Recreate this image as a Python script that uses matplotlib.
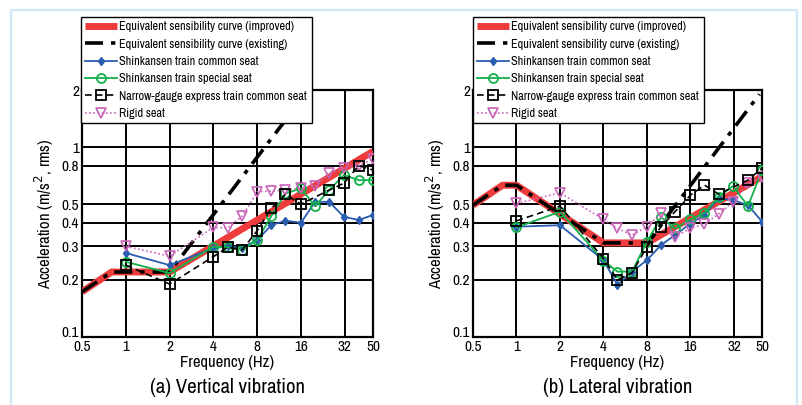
import matplotlib
matplotlib.use("Agg")
import matplotlib.pyplot as plt
from matplotlib import font_manager as fm
from matplotlib.patches import Rectangle
from matplotlib.transforms import ScaledTranslation

# the original uses a condensed Helvetica; take a narrow face if one is installed
_names = sorted({f.name for f in fm.fontManager.ttflist})
_narrow = [n for n in _names if "Narrow" in n or "Condensed" in n]
_narrow += sorted({f.name for f in fm.fontManager.ttflist
                   if f.stretch in ("condensed", "semi-condensed", "extra-condensed", 700, 600, 500)
                   and f.name not in _narrow})
HAVE_NARROW = len(_narrow) > 0
plt.rcParams["font.family"] = (_narrow[:1] if HAVE_NARROW else []) + ["Liberation Sans", "DejaVu Sans"]

# font sizes: (narrow face, fallback)
FS_TICK = 11 if HAVE_NARROW else 9.5
FS_LABEL = 12 if HAVE_NARROW else 9.8
FS_LEG = 8.8 if HAVE_NARROW else 7.6
FS_CAP = 15 if HAVE_NARROW else 12.5

XTICKS = [0.5, 1, 2, 4, 8, 16, 32, 50]
YTICKS = [0.1, 0.2, 0.3, 0.4, 0.5, 0.8, 1, 2]
LABELS = ["Equivalent sensibility curve (improved)",
          "Equivalent sensibility curve (existing)",
          "Shinkansen train common seat",
          "Shinkansen train special seat",
          "Narrow-gauge express train common seat",
          "Rigid seat"]

F_ALL = [1, 2, 4, 5, 6.3, 8, 10, 12.5, 16, 20, 25, 31.5, 40, 50]

# (a) vertical
v_imp_f = [0.5, 0.8, 2, 50]
v_imp_a = [0.173, 0.22, 0.22, 0.95]
v_exi_f = [0.5, 0.8, 2, 18]
v_exi_a = [0.173, 0.22, 0.22, 2.0]
v_common = [0.277, 0.239, 0.294, 0.30, 0.295, 0.324, 0.388, 0.41, 0.40, 0.515, 0.515, 0.43, 0.413, 0.44]
v_special = [0.249, 0.217, 0.299, 0.297, 0.287, 0.324, 0.433, 0.57, 0.606, 0.489, 0.594, 0.713, 0.67, 0.67]
v_narrow_f = [1, 2, 4, 5, 6.3, 8, 10, 12.5, 16, 25, 31.5, 40, 50]
v_narrow = [0.239, 0.19, 0.265, 0.297, 0.287, 0.363, 0.476, 0.564, 0.501, 0.594, 0.645, 0.80, 0.757]
v_rigid = [0.30, 0.267, 0.378, 0.375, 0.433, 0.582, 0.587, 0.594, 0.608, 0.624, 0.733, 0.78, 0.80, 0.865]

# (b) lateral
l_imp_f = [0.5, 0.8, 1, 4, 8, 50]
l_imp_a = [0.495, 0.63, 0.63, 0.313, 0.313, 0.70]
l_exi_f = [0.5, 0.8, 1, 4, 8, 48]
l_exi_a = [0.495, 0.63, 0.63, 0.313, 0.313, 1.9]
l_common = [0.381, 0.388, 0.254, 0.188, 0.221, 0.254, 0.305, 0.344, 0.396, 0.44, 0.537, 0.526, 0.495, 0.405]
l_special = [0.378, 0.457, 0.252, 0.221, 0.221, 0.318, 0.427, 0.373, 0.416, 0.451, 0.547, 0.624, 0.489, 0.757]
l_narrow_f = [1, 2, 4, 5, 6.3, 8, 10, 12.5, 16, 20, 25, 40, 50]
l_narrow = [0.409, 0.489, 0.259, 0.20, 0.218, 0.299, 0.381, 0.457, 0.559, 0.631, 0.566, 0.67, 0.775]
l_rigid = [0.505, 0.575, 0.416, 0.373, 0.344, 0.381, 0.448, 0.337, 0.373, 0.393, 0.444, 0.515, 0.644, 0.698]

RED = "#ee3b3b"
BLUE = "#2a5db0"
GREEN = "#12b04a"
PINK = "#c964b8"


def draw_panel(ax, imp, exi, common, special, narrow, rigid):
    ax.plot(imp[0], imp[1], color=RED, lw=5, solid_capstyle="butt", zorder=3, label=LABELS[0])
    ax.plot(exi[0], exi[1], color="black", lw=2.6, dashes=(5, 2.2, 1.2, 2.2), zorder=4, label=LABELS[1])
    ax.plot(F_ALL, common, color=BLUE, lw=1.3, marker="d", ms=4.5, mfc=BLUE, mec=BLUE,
            zorder=5, label=LABELS[2])
    ax.plot(F_ALL, special, color=GREEN, lw=1.3, marker="o", ms=6.5, mfc="none", mec=GREEN,
            mew=1.3, zorder=5, label=LABELS[3])
    ax.plot(narrow[0], narrow[1], color="black", lw=1.2, ls=(0, (4, 2.5)), marker="s", ms=6.5,
            mfc="none", mec="black", mew=1.3, zorder=6, label=LABELS[4])
    ax.plot(F_ALL, rigid, color=PINK, lw=1.2, ls=(0, (1, 1.5)), marker="v", ms=7.5, mfc="none",
            mec=PINK, mew=1.2, zorder=5, label=LABELS[5])

    ax.set_xscale("log")
    ax.set_yscale("log")
    ax.set_xlim(0.5, 50)
    ax.set_ylim(0.1, 2)
    ax.set_xticks(XTICKS)
    ax.set_xticklabels([f"{t:g}" for t in XTICKS])
    ax.set_yticks(YTICKS)
    ax.set_yticklabels([f"{t:g}" for t in YTICKS])
    ax.minorticks_off()
    ax.tick_params(length=0, labelsize=FS_TICK, pad=2)
    # lift the bottom "0.1" so it does not run into the "0.5" below the corner
    lab = ax.get_yticklabels()[0]
    lab.set_transform(lab.get_transform() + ScaledTranslation(0, 4 / 72, ax.figure.dpi_scale_trans))
    ax.grid(True, color="black", lw=1.4)
    for s in ax.spines.values():
        s.set_linewidth(1.6)
    ax.set_xlabel("Frequency (Hz)", fontsize=FS_LABEL, labelpad=1)
    ax.set_ylabel("Acceleration (m/s$^2$, rms)", fontsize=FS_LABEL, labelpad=4)


fig = plt.figure(figsize=(8.03, 4.05), dpi=100)
fig.patches.append(Rectangle((11 / 803, -0.1), 786 / 803, 1.1 - 10 / 405, transform=fig.transFigure,
                             fill=False, edgecolor="#cfe7f6", lw=1.6, zorder=0))

ax1 = fig.add_axes([82 / 803, 68 / 405, 291 / 803, 247 / 405])
ax2 = fig.add_axes([473 / 803, 68 / 405, 289 / 803, 247 / 405])

draw_panel(ax1, (v_imp_f, v_imp_a), (v_exi_f, v_exi_a), v_common, v_special,
           (v_narrow_f, v_narrow), v_rigid)
draw_panel(ax2, (l_imp_f, l_imp_a), (l_exi_f, l_exi_a), l_common, l_special,
           (l_narrow_f, l_narrow), l_rigid)

for ax, x0, cap in [(ax1, 81, "(a) Vertical vibration"), (ax2, 473, "(b) Lateral vibration")]:
    leg = ax.legend(loc="upper left", bbox_to_anchor=(x0 / 803, 1 - 17 / 405),
                    bbox_transform=fig.transFigure, borderaxespad=0, fontsize=FS_LEG,
                    fancybox=False, framealpha=1, edgecolor="black",
                    handlelength=2.6 if HAVE_NARROW else 3.6,
                    handletextpad=0.2, labelspacing=0.52 if HAVE_NARROW else 0.62,
                    borderpad=0.35)
    leg.get_frame().set_linewidth(1.0)
    leg.set_zorder(10)
    ax.text(0.5, -0.165, cap, transform=ax.transAxes, ha="center", va="top", fontsize=FS_CAP)

fig.savefig("out.png", dpi=100)
